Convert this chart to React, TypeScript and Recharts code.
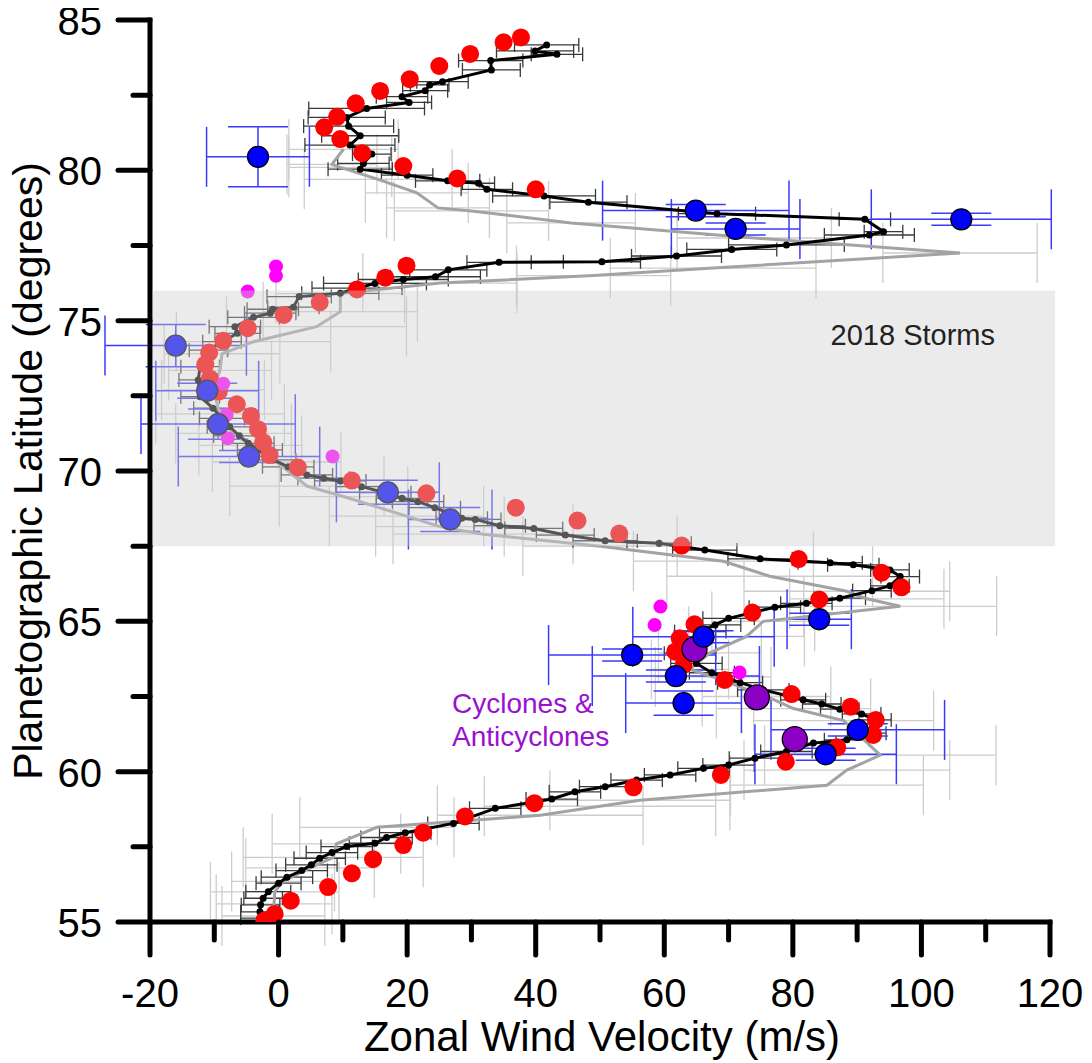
import React from 'react';
import { ScatterChart, Scatter, XAxis, YAxis, ErrorBar, ReferenceArea, Label } from 'recharts';

const FONT = "'Liberation Sans', Arial, Helvetica, sans-serif";

// black profile (dots + line + error bars)
const blackLat = [
  84.17, 83.97, 83.86, 83.65, 83.34, 82.95, 82.84, 82.65, 82.45, 82.26, 82.06, 81.76, 81.47, 81.15, 80.84, 80.54,
  80.23, 80.04, 79.84, 79.65, 79.57, 79.37, 79.15, 78.94, 78.56, 78.37, 77.96, 77.85, 77.52, 77.37, 77.15, 76.96,
  76.94, 76.69, 76.46, 76.37, 76.24, 76.08, 75.91, 75.8, 75.45, 75.38, 75.25, 75.11, 74.8, 74.58, 74.3, 74.02,
  73.47, 73.03, 72.47, 72.09, 71.75, 71.47, 71.17, 70.92, 70.7, 70.37, 70.14, 69.87, 69.76, 69.67, 69.48, 69.28,
  69.09, 68.98, 68.78, 68.43, 68.39, 68.18, 68.09, 67.87, 67.68, 67.6, 67.37, 67.08, 66.95, 66.88, 66.71, 66.49,
  66.18, 66.02, 65.77, 65.6, 65.47, 65.1, 64.88, 64.66, 63.94, 63.6, 63.29, 62.96, 62.72, 62.39, 62.25, 62.08,
  61.92, 61.72, 61.28, 61.06, 60.95, 60.67, 60.45, 60.22, 60.11, 59.89, 59.72, 59.5, 59.33, 59.09, 58.78, 58.28,
  57.97, 57.81, 57.62, 57.51, 57.31, 57.12, 56.9, 56.71, 56.49, 56.29, 56.01, 55.79, 55.57, 55.34, 55.13,
];
const blackVel = [
  41.7, 39.9, 43.3, 33.0, 33.1, 25.5, 23.5, 22.8, 19.2, 20.3, 13.7, 10.6, 10.9, 12.7, 11.1, 14.5,
  13.2, 12.7, 20.0, 26.3, 31.1, 32.4, 41.3, 48.2, 68.2, 91.2, 94.1, 91.9, 79.0, 70.5, 61.9, 50.3,
  34.3, 26.4, 24.4, 19.4, 15.0, 12.2, 9.6, 3.2, 2.3, -0.9, -1.3, -3.9, -6.8, -6.4, -8.8, -10.9,
  -12.2, -12.5, -12.2, -10.2, -8.8, -7.6, -6.1, -4.7, -2.9, -0.8, 1.5, 4.4, 7.0, 9.6, 12.9, 16.6,
  19.2, 21.7, 24.3, 28.5, 30.6, 34.4, 39.7, 44.6, 50.8, 59.2, 66.3, 74.9, 85.8, 89.4, 95.1, 96.7,
  95.1, 92.3, 87.3, 82.1, 77.2, 70.0, 67.9, 65.6, 64.0, 65.0, 67.4, 71.8, 75.4, 81.6, 84.5, 87.3,
  90.7, 92.8, 91.5, 88.4, 83.2, 79.0, 74.1, 70.0, 66.1, 60.9, 55.7, 50.8, 46.1, 42.5, 33.7, 27.2,
  19.7, 16.8, 15.0, 10.6, 8.3, 6.4, 5.1, 3.6, 1.3, 0.0, -1.6, -2.4, -2.8, -2.9, -2.9,
];
const blackErr = [
  5, 6, 4, 5, 4.5, 4, 3, 3.5, 4, 3.5, 9, 6, 7, 6, 7, 3,
  4, 5, 4, 5, 2.5, 4, 8, 6, 6, 4, 3, 7, 9, 7, 7, 6,
  5, 6, 7, 7, 8, 7, 6, 5, 4, 4, 4, 4, 4, 3.5, 3, 3,
  3, 3, 3, 3, 3.5, 3.5, 4, 4, 3.5, 3.5, 4, 4, 4, 4, 4, 4,
  4, 4, 4, 4, 4, 4, 4.5, 4.5, 5, 5, 5, 5, 5, 4, 3, 3,
  3, 3, 4, 4, 4, 4, 4, 4, 4, 4, 3.5, 3.5, 4, 3.5, 3, 3,
  3, 2.5, 3, 3.5, 3.5, 4, 4, 4, 4, 4, 4, 4, 4, 4, 4, 4,
  4, 4, 4, 4, 4, 4, 4, 4, 4, 3.5, 3.5, 3, 3, 3, 3,
];

// gray profile (line + light error bars)
const grayLat = [
  80.7, 80.2, 80.1, 79.7, 79.25, 78.75, 78.65, 78.25, 77.75, 77.25, 76.75, 76.5, 76.25, 75.9, 75.3, 74.8,
  74.3, 73.9, 73.35, 72.7, 71.9, 71.25, 70.85, 70.3, 69.5, 69.15, 68.5, 68.15, 67.9, 67.5, 67.0, 66.5,
  66.0, 65.75, 65.5, 65.0, 64.5, 63.95, 63.4, 63.15, 62.5, 62.1, 61.7, 60.55, 60.05, 59.55, 59.05, 58.85,
  58.55, 58.15, 57.6, 57.15, 56.8, 56.35, 56.0, 55.6, 55.2,
];
const grayVel = [
  10.1, 8.3, 9.6, 15.5, 21.5, 24.8, 30.0, 45.5, 74.0, 106.0, 67.6, 49.0, 25.1, 9.6, 9.6, 5.9,
  -3.9, -8.8, -9.1, -10.2, -9.1, -7.0, -4.4, -0.3, 4.4, 10.1, 19.9, 25.1, 31.8, 50.0, 69.2, 76.4,
  88.4, 91.5, 96.7, 75.4, 72.8, 67.1, 64.0, 67.6, 75.9, 80.1, 87.9, 93.6, 88.4, 85.3, 56.2, 50.0,
  40.7, 15.3, 9.0, 8.5, 4.9, 0.7, -0.6, -0.7, -0.8,
];
const grayErr = [
  8.5, 7, 8, 11.5, 8, 8, 12, 10, 12, 12, 16, 12, 12, 10, 12, 14,
  12, 9, 8, 8, 10, 9, 8, 10, 12, 10, 12, 10, 14, 12, 14, 16,
  16, 12, 15, 8, 9, 8, 6, 9, 10, 12, 14, 18, 16, 15, 14, 18,
  16, 12, 10, 14, 10, 8, 10, 9, 8,
];

// red points
const redLat = [
  84.42, 84.26, 83.87, 83.47, 83.03, 82.64, 82.23, 81.78, 81.43, 81.04, 80.57, 80.14, 79.73, 79.37, 76.83, 76.43,
  76.04, 75.61, 75.19, 74.75, 74.33, 73.94, 73.55, 73.08, 72.64, 72.22, 71.83, 71.39, 70.96, 70.53, 70.12, 69.68,
  69.26, 68.78, 68.35, 67.92, 67.52, 67.07, 66.62, 66.13, 65.73, 65.29, 64.9, 64.44, 63.99, 63.55, 63.05, 62.58,
  62.16, 61.72, 61.22, 60.81, 60.33, 59.89, 59.48, 58.95, 58.51, 57.97, 57.56, 57.09, 56.62, 56.16, 55.71, 55.27,
  55.05,
];
const redVel = [
  37.7, 35.0, 29.8, 25.0, 20.4, 15.8, 12.0, 9.1, 7.1, 9.6, 13.0, 19.4, 27.8, 40.0, 19.9, 16.6,
  12.2, 6.4, 0.8, -4.8, -8.6, -10.8, -11.4, -10.7, -9.3, -6.5, -4.3, -3.2, -2.4, -1.4, 3.0, 11.4,
  23.0, 36.9, 46.5, 53.0, 62.7, 80.9, 93.8, 96.9, 84.1, 73.7, 64.7, 62.4, 61.7, 63.0, 69.4, 79.8,
  89.0, 92.9, 92.5, 86.9, 78.9, 68.8, 55.2, 39.8, 29.0, 22.5, 19.4, 14.7, 11.4, 7.7, 1.9, -0.6,
  -2.2,
];

// magenta points
const magLat = [76.8, 76.49, 75.97, 72.9, 71.86, 71.09, 70.48, 65.49, 64.88, 63.3];
const magVel = [-0.4, -0.4, -4.8, -8.6, -8.1, -7.9, 8.4, 59.4, 58.5, 71.7];

// purple: cyclones & anticyclones
const purLat = [64.07, 62.47, 61.08];
const purVel = [64.7, 74.4, 80.3];

// blue points with x and y errors
const blueLat = [80.45, 78.66, 78.05, 78.37, 74.17, 72.67, 71.56, 70.48, 69.29, 68.39, 65.07, 64.49, 63.88, 63.18, 62.28, 61.39, 60.58];
const blueVel = [-3.2, 64.9, 71.1, 106.2, -16.0, -11.1, -9.4, -4.6, 17.0, 26.7, 84.1, 66.1, 55.0, 61.8, 63.0, 90.1, 85.1];
const blueXErr = [8, 14.5, 10, 14, 11, 8, 12, 11, 8, 6.5, 5, 11, 13, 13, 9, 13.5, 11];
const blueYErr = [1.0, 0.2, 0.2, 0.2, 0.7, 0.25, 0.5, 0.2, 0.4, 0.4, 0.2, 0.2, 0.2, 0.2, 0.4, 0.2, 0.2];

const xTicks = [-20, -10, 0, 10, 20, 30, 40, 50, 60, 70, 80, 90, 100, 110, 120];
const yTicks = [55, 57.5, 60, 62.5, 65, 67.5, 70, 72.5, 75, 77.5, 80, 82.5, 85];
const topTicks = [0, 1, 2, 3, 4, 5, 6, 7, 8, 9, 10, 11, 12];

const blackData = blackLat.map((lat, i) => ({ lat, vel: blackVel[i], err: blackErr[i] }));
const grayData = grayLat.map((lat, i) => ({ lat, vel: grayVel[i], err: grayErr[i] }));
const redData = redLat.map((lat, i) => ({ lat, vel: redVel[i] }));
const magData = magLat.map((lat, i) => ({ lat, vel: magVel[i] }));
const purData = purLat.map((lat, i) => ({ lat, vel: purVel[i] }));
const blueData = blueLat.map((lat, i) => ({ lat, vel: blueVel[i], xe: blueXErr[i], ye: blueYErr[i] }));

const dot = (r: number, fill: string, stroke?: string) => (p: any) => (
  <circle cx={p.cx} cy={p.cy} r={r} fill={fill} stroke={stroke ?? 'none'} strokeWidth={1.3} />
);
const noDot = () => <g />;

const BottomTick = (p: any) => {
  const v = p.payload.value;
  const major = v % 20 === 0;
  return (
    <g>
      <line x1={p.x} x2={p.x} y1={p.y} y2={p.y + (major ? 33 : 18)} stroke='#000' strokeWidth={5} strokeLinecap='round' />
      {major && (
        <text x={p.x} y={p.y + 85} textAnchor='middle' fontSize={40} fontFamily={FONT} fill='#000'>
          {v}
        </text>
      )}
    </g>
  );
};

const LeftTick = (p: any) => {
  const v = p.payload.value;
  const major = v % 5 === 0;
  return (
    <g>
      <line x1={p.x} x2={p.x - (major ? 32 : 17)} y1={p.y} y2={p.y} stroke='#000' strokeWidth={5} strokeLinecap='round' />
      {major && (
        <text x={p.x - 48} y={p.y + 15} textAnchor='end' fontSize={40} fontFamily={FONT} fill='#000'>
          {v}
        </text>
      )}
    </g>
  );
};

const RightTick = (p: any) => {
  const v = p.payload.value;
  if (v === 55 || v === 85) return <g />;
  const major = v % 5 === 0;
  return <line x1={p.x} x2={p.x - (major ? 30 : 15)} y1={p.y} y2={p.y} stroke='#000' strokeWidth={5} strokeLinecap='round' />;
};

const TopTick = (p: any) => {
  const v = p.payload.value;
  if (v === 0 || v === 12) return <g />;
  const major = v % 2 === 0;
  return <line x1={p.x} x2={p.x} y1={p.y} y2={p.y + (major ? 30 : 16)} stroke='#000' strokeWidth={5} strokeLinecap='round' />;
};

const axisLine = { stroke: '#000', strokeWidth: 5, strokeLinecap: 'square' as const };

export default function App() {
  return (
    <div style={{ marginLeft: -8, marginTop: -8 }}>
      <ScatterChart width={1092} height={1063} margin={{ top: 20, right: 42, bottom: 0, left: 0 }}>
        <XAxis
          type='number'
          dataKey='vel'
          domain={[-20, 120]}
          ticks={xTicks}
          interval={0}
          height={141}
          tickSize={0}
          tickMargin={0}
          tickLine={false}
          tick={BottomTick}
          axisLine={axisLine}
          allowDataOverflow
        >
          <Label
            content={() => (
              <text x={602} y={1051} textAnchor='middle' fontSize={42} fontFamily={FONT} fill='#000'>
                Zonal Wind Velocity (m/s)
              </text>
            )}
          />
        </XAxis>
        <XAxis
          xAxisId='top'
          orientation='top'
          type='number'
          domain={[0, 12]}
          ticks={topTicks}
          interval={0}
          height={0}
          tickSize={0}
          tickMargin={0}
          tickLine={false}
          tick={TopTick}
          axisLine={axisLine}
        />
        <YAxis
          type='number'
          dataKey='lat'
          domain={[55, 85]}
          ticks={yTicks}
          interval={0}
          width={150}
          tickSize={0}
          tickMargin={0}
          tickLine={false}
          tick={LeftTick}
          axisLine={axisLine}
          allowDataOverflow
        >
          <Label
            content={() => (
              <text
                x={42}
                y={471}
                transform='rotate(-90, 42, 471)'
                textAnchor='middle'
                fontSize={41}
                fontFamily={FONT}
                fill='#000'
              >
                Planetographic Latitude (degrees)
              </text>
            )}
          />
        </YAxis>
        <YAxis
          yAxisId='right'
          orientation='right'
          type='number'
          domain={[55, 85]}
          ticks={yTicks}
          interval={0}
          width={0}
          tickSize={0}
          tickMargin={0}
          tickLine={false}
          tick={RightTick}
          axisLine={axisLine}
        />

        <Scatter
          data={grayData}
          shape={noDot}
          line={{ stroke: '#a3a3a3', strokeWidth: 3 }}
          isAnimationActive={false}
        >
          <ErrorBar dataKey='err' direction='x' width={30} stroke='#cdcdcd' strokeWidth={1.3} />
        </Scatter>
        <Scatter
          data={blackData}
          shape={dot(3.5, '#000')}
          line={{ stroke: '#000', strokeWidth: 3 }}
          isAnimationActive={false}
        >
          <ErrorBar dataKey='err' direction='x' width={7} stroke='#3a3a3a' strokeWidth={1.3} />
        </Scatter>
        <Scatter data={redData} shape={dot(9, '#ff0000')} isAnimationActive={false} />
        <Scatter data={magData} shape={dot(7, '#ff00ff')} isAnimationActive={false} />
        <Scatter data={purData} shape={dot(12.5, '#8a00c4', '#000')} isAnimationActive={false} />
        <Scatter data={blueData} shape={dot(10.5, '#0000ff', '#000')} isAnimationActive={false}>
          <ErrorBar dataKey='xe' direction='x' width={30} stroke='#3a3aff' strokeWidth={1.5} />
          <ErrorBar dataKey='ye' direction='y' width={30} stroke='#3a3aff' strokeWidth={1.5} />
        </Scatter>

        <ReferenceArea
          x1={-19.6}
          x2={120.8}
          y1={67.5}
          y2={76}
          ifOverflow='visible'
          fill='#cfcfcf'
          fillOpacity={0.41}
          stroke='none'
          zIndex={1500}
          label={{
            content: () => (
              <text x={995} y={345} textAnchor='end' fontSize={29} fontFamily={FONT} fill='#222'>
                2018 Storms
              </text>
            ),
          }}
        />
        <ReferenceArea
          x1={25}
          x2={30}
          y1={61}
          y2={62}
          ifOverflow='visible'
          fill='none'
          stroke='none'
          zIndex={1500}
          label={{
            content: () => (
              <text fontSize={28} fontFamily={FONT} fill='#9a10cf'>
                <tspan x={452} y={713}>Cyclones &amp;</tspan>
                <tspan x={452} y={746}>Anticyclones</tspan>
              </text>
            ),
          }}
        />
      </ScatterChart>
    </div>
  );
}
